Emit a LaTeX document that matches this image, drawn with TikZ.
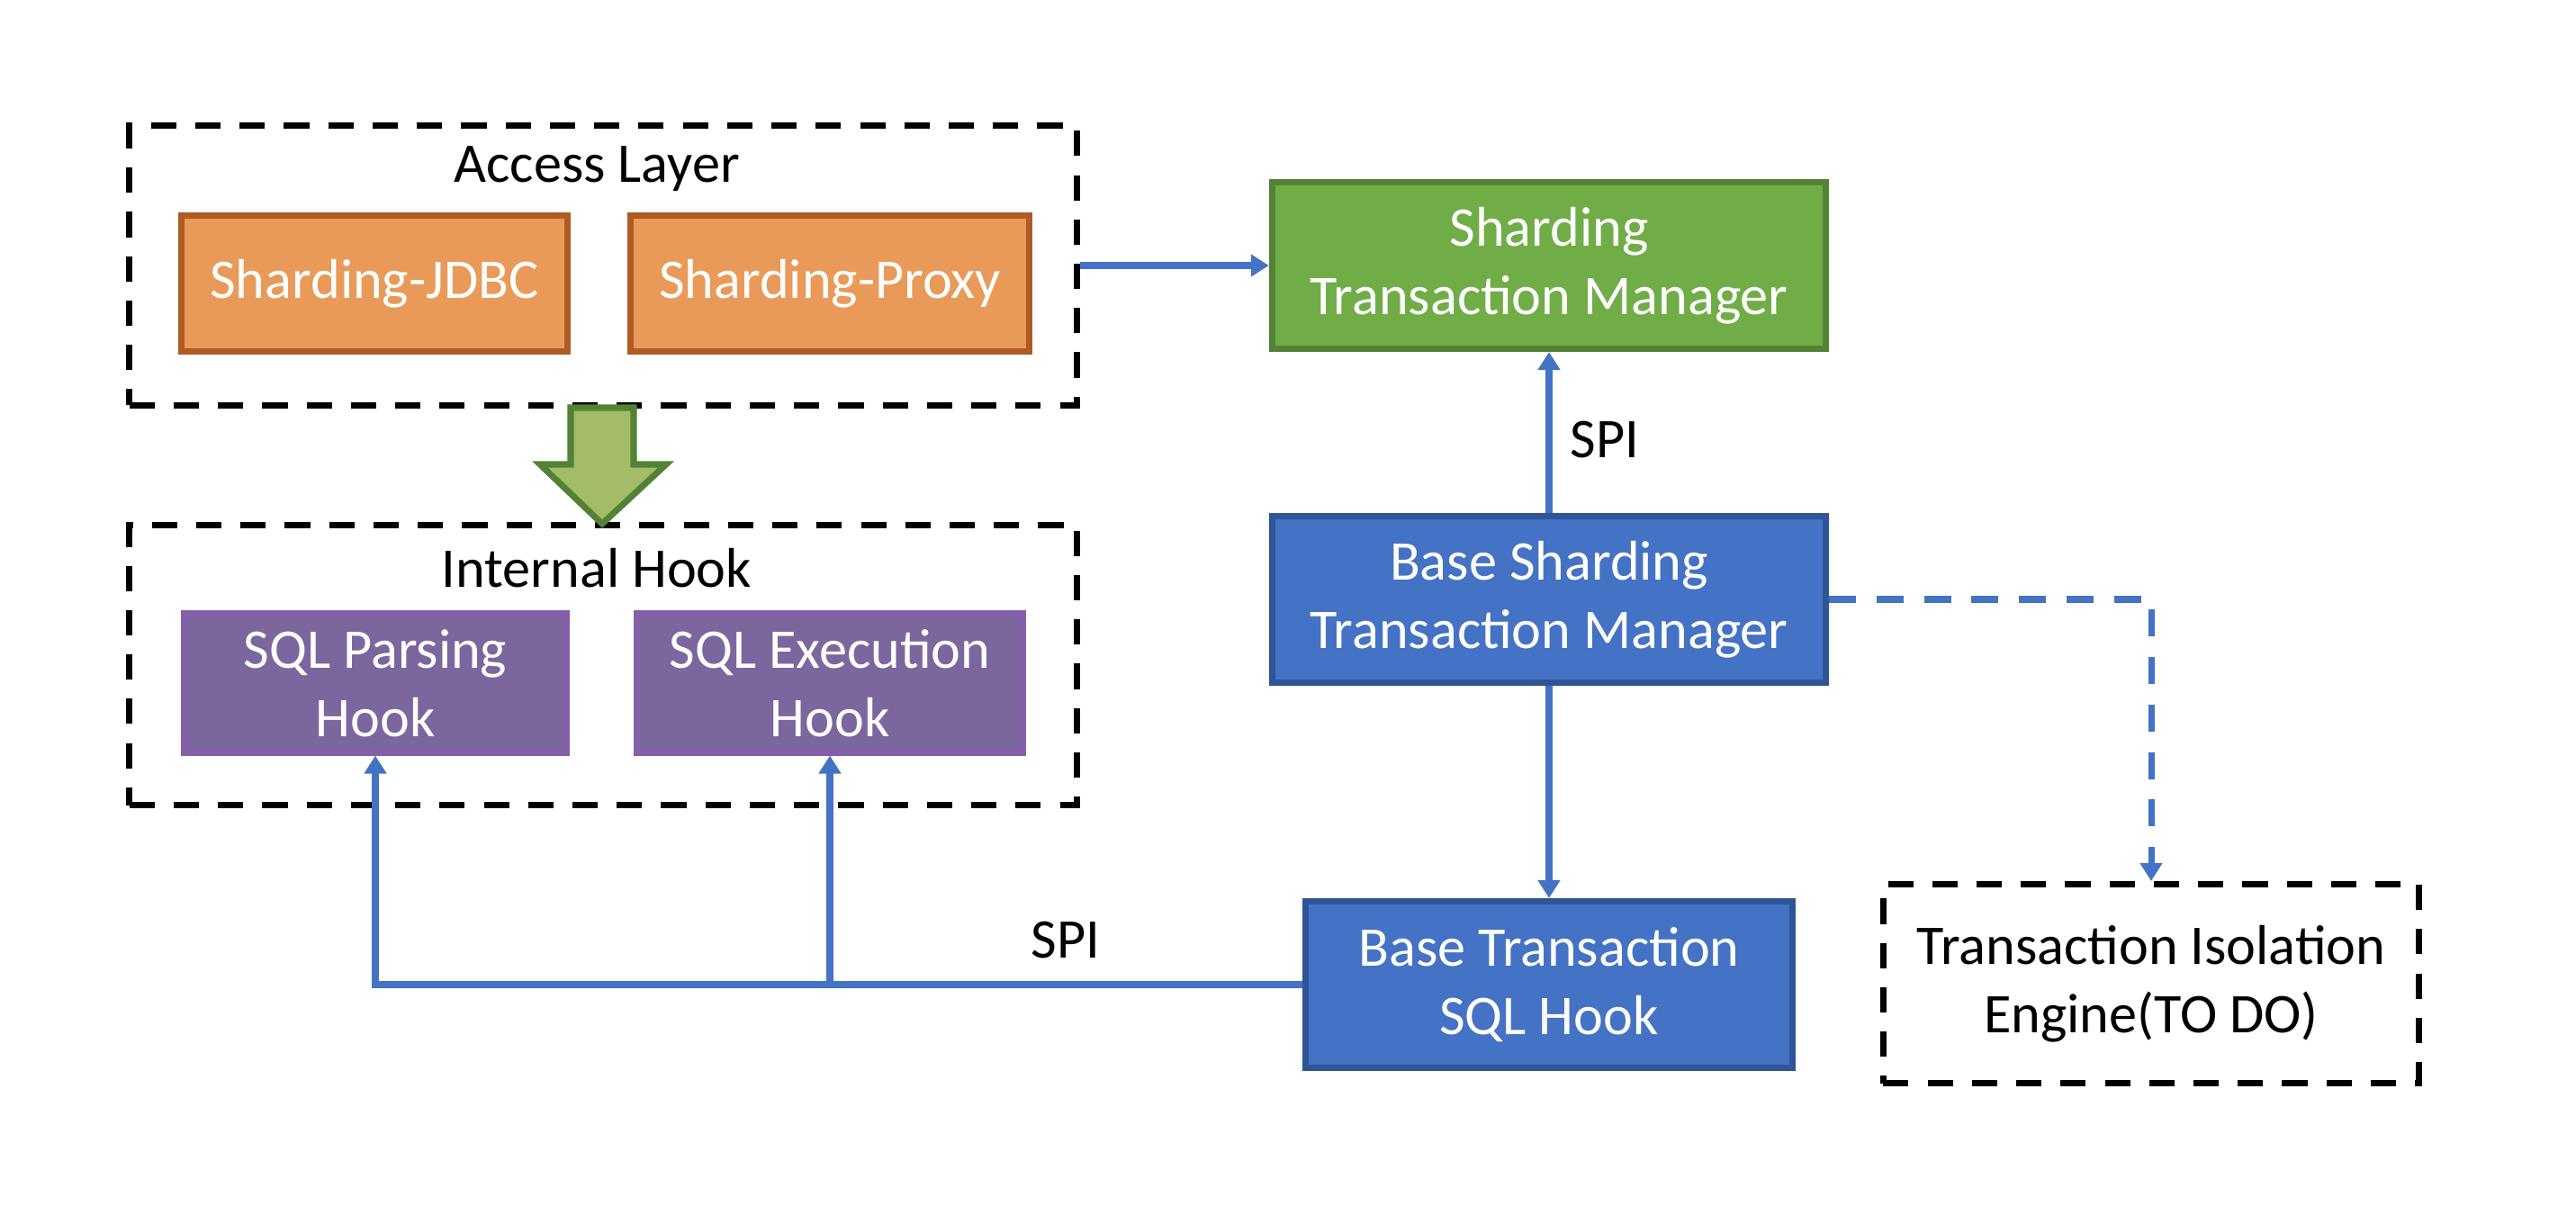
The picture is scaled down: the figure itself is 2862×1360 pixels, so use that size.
\documentclass[tikz,border=0pt]{standalone}
\usepackage{fontspec}
\setmainfont{Carlito}
\usepackage{tikz}
\usetikzlibrary{arrows.meta}

\definecolor{orangefill}{RGB}{233,154,88}
\definecolor{orangeline}{RGB}{176,90,36}
\definecolor{greenfill}{RGB}{112,173,71}
\definecolor{greenline}{RGB}{84,130,53}
\definecolor{lightgreen}{RGB}{164,188,103}
\definecolor{bluefill}{RGB}{68,114,196}
\definecolor{blueline}{RGB}{47,85,151}
\definecolor{purplefill}{RGB}{124,102,158}
\definecolor{purpleline}{RGB}{134,94,170}

\newcommand{\boxfont}{\fontsize{17.7}{21.6}\selectfont}

\tikzset{
  layer/.style={draw=black,line width=2pt,dash pattern=on 8pt off 6pt,
    rectangle,inner sep=0pt},
  box/.style={rectangle,line width=2pt,text=white,align=center,inner sep=0pt,font=\boxfont},
  orangebox/.style={box,fill=orangefill,draw=orangeline},
  greenbox/.style={box,fill=greenfill,draw=greenline},
  bluebox/.style={box,fill=bluefill,draw=blueline},
  purplebox/.style={box,fill=purplefill,draw=purpleline},
  label/.style={font=\boxfont,text=black,inner sep=0pt},
  conn/.style={draw=bluefill,line width=2pt,-{Triangle[length=5.7pt,width=6.8pt]}}
}

\begin{document}
\begin{tikzpicture}[x=0.01cm,y=-0.01cm]
  \fill[white] (0,0) rectangle (2862,1360);
  \useasboundingbox (0,0) rectangle (2862,1360);

  % access layer
  \node[layer,minimum width=10.52cm,minimum height=3.10cm] (access) at (670,295) {};
  \node[label] (accesstitle) at (663,188) {Access Layer};
  \node[orangebox,minimum width=4.28cm,minimum height=1.51cm] (jdbc) at (416,315) {Sharding-JDBC};
  \node[orangebox,minimum width=4.42cm,minimum height=1.51cm] (proxy) at (922,315) {Sharding-Proxy};

  % internal hook
  \node[layer,minimum width=10.52cm,minimum height=3.11cm] (internal) at (670,739) {};
  \node[label] (internaltitle) at (663,631) {Internal Hook};
  \node[purplebox,minimum width=4.25cm,minimum height=1.54cm] (parsing) at (417,759) {SQL Parsing\\Hook};
  \node[purplebox,minimum width=4.29cm,minimum height=1.54cm] (execution) at (922,759) {SQL Execution\\Hook};

  % block arrow between the layers
  \path[draw=greenline,fill=lightgreen,line width=2pt]
    (634,453)--(704,453)--(704,516)--(740,516)--(669,582)--(600,516)--(634,516)--cycle;

  % transaction side
  \node[greenbox,minimum width=6.15cm,minimum height=1.85cm] (stm) at (1721,295) {Sharding\\Transaction Manager};
  \node[bluebox,minimum width=6.15cm,minimum height=1.85cm] (bstm) at (1721,666) {Base Sharding\\Transaction Manager};
  \node[bluebox,minimum width=5.40cm,minimum height=1.85cm] (btsh) at (1721,1094) {Base Transaction\\SQL Hook};
  \node[layer,font=\boxfont,align=center,minimum width=5.95cm,minimum height=2.21cm] (iso) at (2390,1093) {Transaction Isolation\\Engine(TO DO)};

  \node[label] (spiup) at (1783,489) {SPI};
  \node[label] (spidown) at (1184,1045) {SPI};

  \coordinate (split) at (execution.south |- btsh.west);

  \draw[conn] (access.east) -- (stm.west);
  \draw[conn] (bstm.north) -- (stm.south);
  \draw[conn] (bstm.south) -- (btsh.north);
  \draw[conn,dash pattern=on 8.5pt off 6.5pt] (bstm.east) -| (iso.north);
  \draw[conn] (btsh.west) -| (parsing.south);
  \draw[conn] (split) -- (execution.south);
\end{tikzpicture}
\end{document}
